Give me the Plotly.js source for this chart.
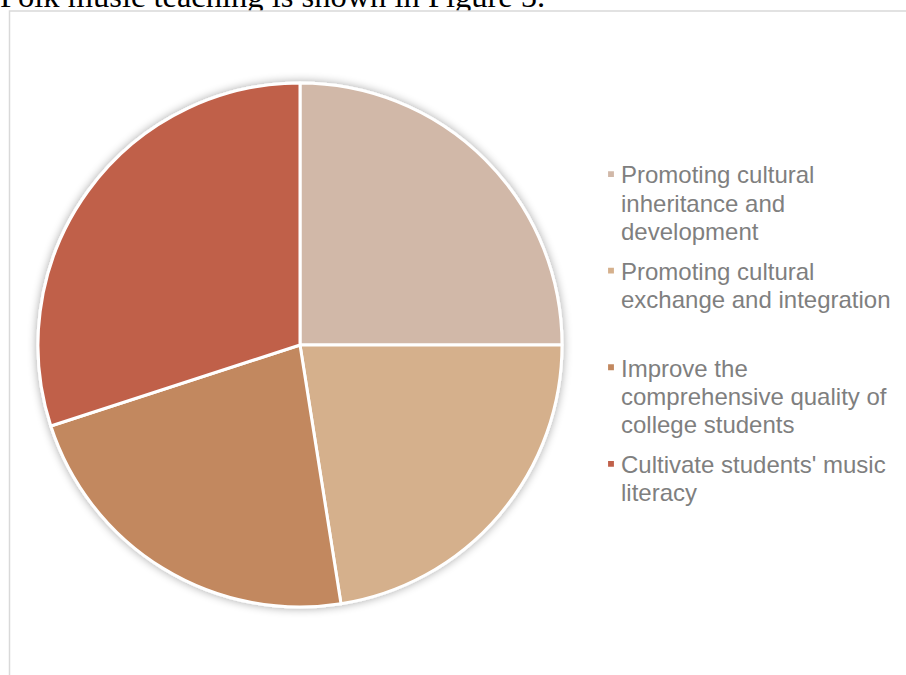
<!DOCTYPE html>
<html>
<head>
<meta charset="utf-8">
<script src="https://cdn.plot.ly/plotly-3.0.1.min.js"></script>
<style>
  html, body { margin: 0; padding: 0; background: #ffffff; overflow: hidden; }
  #wrap { position: relative; width: 906px; height: 675px; overflow: hidden; }
  #caption { position: absolute; left: 0px; top: -24px; z-index: 0; white-space: nowrap;
             font-family: "Liberation Serif", "Times New Roman", serif; font-size: 32.5px;
             line-height: 40px; color: #000000; }
  #chart { position: absolute; left: 0; top: 0; width: 906px; height: 675px; z-index: 1; }
</style>
</head>
<body>
<div id="wrap">
  <div id="caption"></div>
  <div id="chart"></div>
</div>
<script>
// ---- Data ----
const categories = [
  "Promoting cultural<br>inheritance and<br>development",
  "Promoting cultural<br>exchange and integration<br>\u00a0",
  "Improve the<br>comprehensive quality of<br>college students",
  "Cultivate students' music<br>literacy"
];
const shares = [25, 22.5, 22.5, 30];
const sliceColors = ["#D1B8A8", "#D5B08C", "#C2885F", "#C0604A"];
const captionText = "Folk music teaching is shown in Figure 5.";

document.getElementById("caption").textContent = captionText;

// ---- Layout helpers (pixel -> paper) ----
const W = 906, H = 675;
const px = v => v / W;
const py = v => 1 - v / H;

const trace = {
  type: "pie",
  labels: categories,
  values: shares,
  sort: false,
  direction: "clockwise",
  rotation: 0,
  textinfo: "none",
  hoverinfo: "none",
  marker: { colors: sliceColors, line: { color: "#ffffff", width: 3 } },
  domain: { x: [px(38), px(562)], y: [py(607), py(83)] }
};

const layout = {
  width: W,
  height: H,
  margin: { l: 0, r: 0, t: 0, b: 0 },
  paper_bgcolor: "rgba(0,0,0,0)",
  showlegend: true,
  legend: {
    x: px(581), y: py(152), xanchor: "left", yanchor: "top",
    valign: "top",
    font: { family: "Liberation Sans, Arial, sans-serif", size: 24, color: "#7f7f7f" },
    bgcolor: "rgba(0,0,0,0)"
  },
  shapes: [
    { type: "rect", layer: "below", xref: "paper", yref: "paper",
      x0: px(9.5), x1: 1.1, y0: -0.1, y1: py(11),
      fillcolor: "#ffffff", line: { color: "#d9d9d9", width: 1.5 } }
  ]
};

Plotly.newPlot("chart", [trace], layout, { displayModeBar: false, staticPlot: true }).then(gd => {
  // soft shadow around the pie
  const svg = gd.querySelector("svg.main-svg");
  const ns = "http://www.w3.org/2000/svg";
  let defs = svg.querySelector("defs");
  if (!defs) { defs = document.createElementNS(ns, "defs"); svg.insertBefore(defs, svg.firstChild); }
  const f = document.createElementNS(ns, "filter");
  f.setAttribute("id", "pieShadow");
  f.setAttribute("x", "-20%"); f.setAttribute("y", "-20%");
  f.setAttribute("width", "140%"); f.setAttribute("height", "140%");
  f.innerHTML = '<feGaussianBlur in="SourceAlpha" stdDeviation="5"/>' +
    '<feComponentTransfer><feFuncA type="linear" slope="0.35"/></feComponentTransfer>' +
    '<feMerge><feMergeNode/><feMergeNode in="SourceGraphic"/></feMerge>';
  defs.appendChild(f);
  gd.querySelectorAll(".pielayer .trace").forEach(t => t.setAttribute("filter", "url(#pieShadow)"));
  // smaller legend squares, closer to the text
  gd.querySelectorAll(".legend .legendpoints path").forEach(p => {
    p.setAttribute("transform", "translate(30,0) scale(0.65)");
  });
  // tighter line spacing inside each legend entry (keeps entry spacing)
  gd.querySelectorAll(".legend text.legendtext").forEach(t => {
    const lines = t.querySelectorAll("tspan.line");
    lines.forEach((ln, i) => { if (i > 0) ln.setAttribute("dy", (i * 1.17) + "em"); });
  });
});
</script>
</body>
</html>
